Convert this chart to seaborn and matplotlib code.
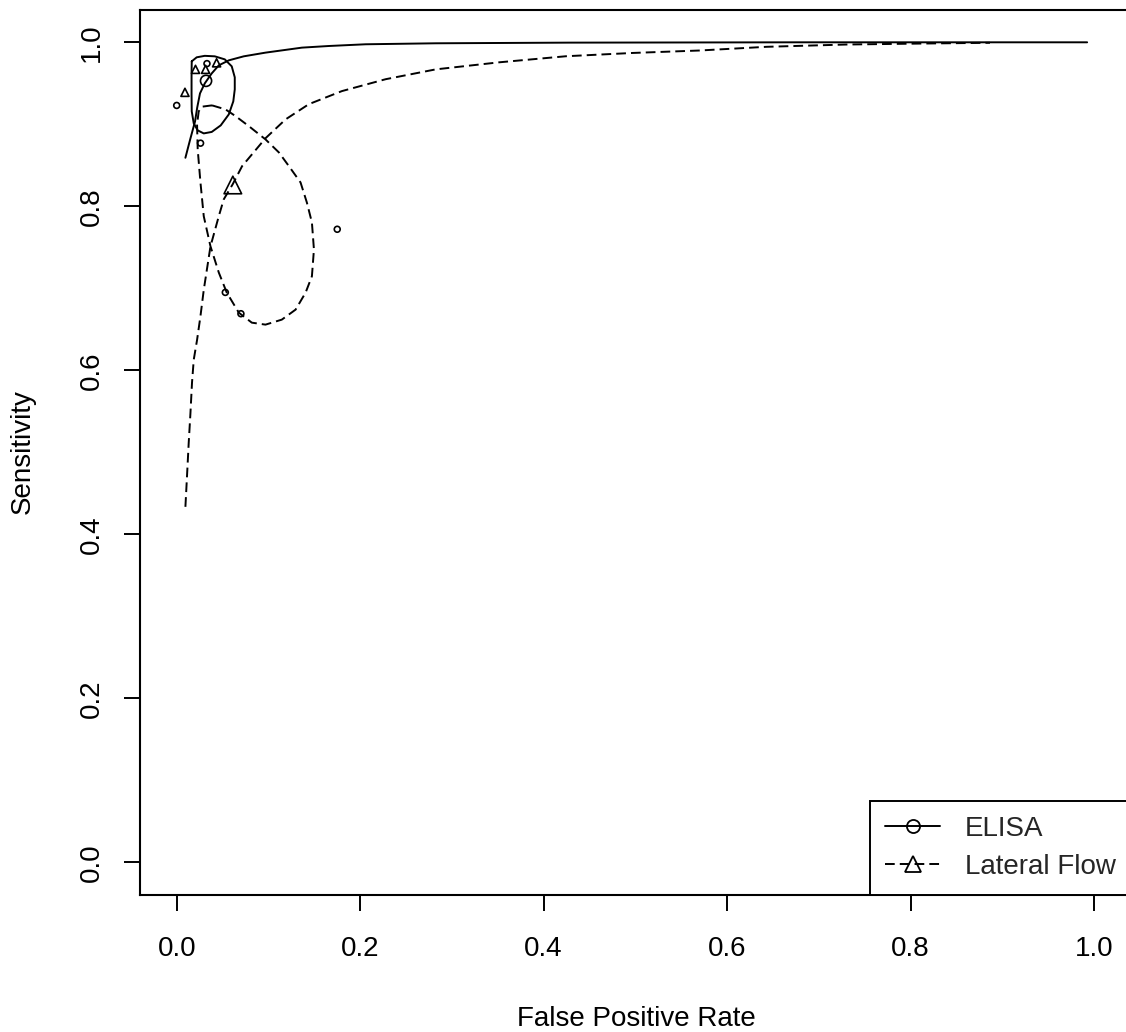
import numpy as np
import pandas as pd
import matplotlib
matplotlib.use("Agg")
import matplotlib.pyplot as plt
import seaborn as sns
from matplotlib.lines import Line2D

# ---------------- data ----------------
# study points
elisa_fpr = [0.000, 0.033, 0.026, 0.175, 0.053, 0.070]
elisa_sens = [0.923, 0.974, 0.877, 0.772, 0.695, 0.669]
lf_fpr = [0.0090, 0.0205, 0.0315, 0.0435]
lf_sens = [0.939, 0.967, 0.967, 0.975]

# summary points
elisa_sum_fpr = [0.032]
elisa_sum_sens = [0.953]
lf_sum_fpr = [0.0612]
lf_sum_sens = [0.826]

# SROC curves
elisa_sroc_fpr = [0.0095, 0.0147, 0.0200, 0.0224, 0.0254, 0.0306, 0.0382, 0.0459,
                  0.0568, 0.0731, 0.0968, 0.1365, 0.1659, 0.2060, 0.2824, 0.4279,
                  0.6790, 0.9924]
elisa_sroc_sens = [0.8592, 0.8816, 0.9035, 0.9206, 0.9377, 0.9499, 0.9621, 0.9719,
                   0.9780, 0.9829, 0.9874, 0.9935, 0.9955, 0.9976, 0.9988, 0.9996,
                   1.0000, 1.0000]
lf_sroc_fpr = [0.0095, 0.0112, 0.0131, 0.0150, 0.0167, 0.0186, 0.0222, 0.0259,
               0.0295, 0.0368, 0.0459, 0.0513, 0.0611, 0.0713, 0.0968, 0.1187,
               0.1441, 0.1801, 0.2278, 0.2824, 0.3515, 0.4243, 0.4967, 0.5699,
               0.6427, 0.7300, 0.8133, 0.8865]
lf_sroc_sens = [0.4335, 0.4700, 0.5116, 0.5480, 0.5850, 0.6130, 0.6370, 0.6660,
                0.6980, 0.7510, 0.7880, 0.8085, 0.8270, 0.8490, 0.8830, 0.9060,
                0.9246, 0.9405, 0.9550, 0.9670, 0.9756, 0.9830, 0.9870, 0.9900,
                0.9945, 0.9973, 0.9985, 0.9994]

# confidence regions
elisa_ell_fpr = [0.0164, 0.0218, 0.0306, 0.0415, 0.0524, 0.0600, 0.0633, 0.0633,
                 0.0617, 0.0568, 0.0480, 0.0382, 0.0295, 0.0229, 0.0186, 0.0164,
                 0.0162, 0.0162, 0.0164]
elisa_ell_sens = [0.9768, 0.9817, 0.9835, 0.9829, 0.9792, 0.9707, 0.9573, 0.9426,
                  0.9280, 0.9121, 0.8987, 0.8907, 0.8889, 0.8926, 0.9011, 0.9158,
                  0.9365, 0.9609, 0.9768]
lf_ell_fpr = [0.0385, 0.0532, 0.0641, 0.0786, 0.0968, 0.1114, 0.1223, 0.1350,
              0.1419, 0.1474, 0.1496, 0.1474, 0.1405, 0.1296, 0.1146, 0.0968,
              0.0819, 0.0677, 0.0546, 0.0459, 0.0368, 0.0295, 0.0259, 0.0229,
              0.0222, 0.0240, 0.0276, 0.0385]
lf_ell_sens = [0.9231, 0.9182, 0.9100, 0.8978, 0.8816, 0.8657, 0.8490, 0.8291,
               0.8046, 0.7802, 0.7473, 0.7147, 0.6947, 0.6740, 0.6618, 0.6557,
               0.6581, 0.6703, 0.6947, 0.7192, 0.7513, 0.7879, 0.8291, 0.8694,
               0.8999, 0.9158, 0.9215, 0.9231]

legend_labels = ["ELISA", "Lateral Flow"]
x_ticks = [0.0, 0.2, 0.4, 0.6, 0.8, 1.0]
y_ticks = [0.0, 0.2, 0.4, 0.6, 0.8, 1.0]
tick_labels = ["0.0", "0.2", "0.4", "0.6", "0.8", "1.0"]

# ---------------- styling ----------------
sns.set_style("white")
plt.rcParams["font.family"] = ["Liberation Sans", "DejaVu Sans"]

FS = 20
LW = 1.4
DASH = (0, (5, 2.6))

fig = plt.figure(figsize=(11.26, 10.32), dpi=100)
ax = fig.add_axes([0.12433, 0.13265, 0.87993, 0.85814])

# SROC curves
sns.lineplot(x=elisa_sroc_fpr, y=elisa_sroc_sens, sort=False, estimator=None,
             color="black", lw=LW, ax=ax)
sns.lineplot(x=lf_sroc_fpr, y=lf_sroc_sens, sort=False, estimator=None,
             color="black", lw=LW, linestyle=DASH, ax=ax)

# confidence regions
sns.lineplot(x=elisa_ell_fpr, y=elisa_ell_sens, sort=False, estimator=None,
             color="black", lw=LW, ax=ax)
sns.lineplot(x=lf_ell_fpr, y=lf_ell_sens, sort=False, estimator=None,
             color="black", lw=LW, linestyle=DASH, ax=ax)


def open_scatter(x, y, marker, s):
    sns.scatterplot(x=x, y=y, marker=marker, s=s, color="black", ax=ax,
                    linewidth=1.2, zorder=3)
    coll = ax.collections[-1]
    coll.set_facecolor("none")
    coll.set_edgecolor("black")
    coll.set_linewidth(1.2)


open_scatter(elisa_fpr, elisa_sens, "o", 18)
open_scatter(lf_fpr, lf_sens, "^", 34)
open_scatter(elisa_sum_fpr, elisa_sum_sens, "o", 64)
open_scatter(lf_sum_fpr, lf_sum_sens, "^", 160)

ax.set_xlim(-0.04, 1.04)
ax.set_ylim(-0.04, 1.04)
ax.set_xticks(x_ticks)
ax.set_xticklabels(tick_labels)
ax.set_yticks(y_ticks)
ax.set_yticklabels(tick_labels, rotation=90, va="center")

for sp in ax.spines.values():
    sp.set_visible(True)
    sp.set_color("black")
    sp.set_linewidth(1.5)

ax.tick_params(axis="both", direction="out", length=11.5, width=1.4,
               colors="black", labelsize=FS, left=True, bottom=True)
ax.tick_params(axis="x", pad=18)
ax.tick_params(axis="y", pad=14)

ax.set_xlabel("False Positive Rate", fontsize=FS, color="black")
ax.set_ylabel("Sensitivity", fontsize=FS, color="black")
ax.xaxis.set_label_coords(0.5648, 1 - 1019 / 1032, transform=fig.transFigure)
ax.xaxis.label.set_va("center")
ax.yaxis.set_label_coords(23 / 1126, 1 - 451.5 / 1032, transform=fig.transFigure)
ax.yaxis.label.set_va("center")

handles = [
    Line2D([], [], color="black", lw=LW, marker="o", ms=9.4, mfc="none", mew=1.3),
    Line2D([], [], color="black", lw=LW, linestyle=DASH, marker="^", ms=12,
           mfc="none", mew=1.3),
]
leg = ax.legend(handles, legend_labels, loc="lower right", borderaxespad=0,
                frameon=True, fancybox=False, edgecolor="black", framealpha=1,
                fontsize=FS, handlelength=1.95, handletextpad=0.9,
                labelspacing=0.42, borderpad=0.55)
leg.get_frame().set_linewidth(1.4)

fig.savefig("out.png", dpi=100)
